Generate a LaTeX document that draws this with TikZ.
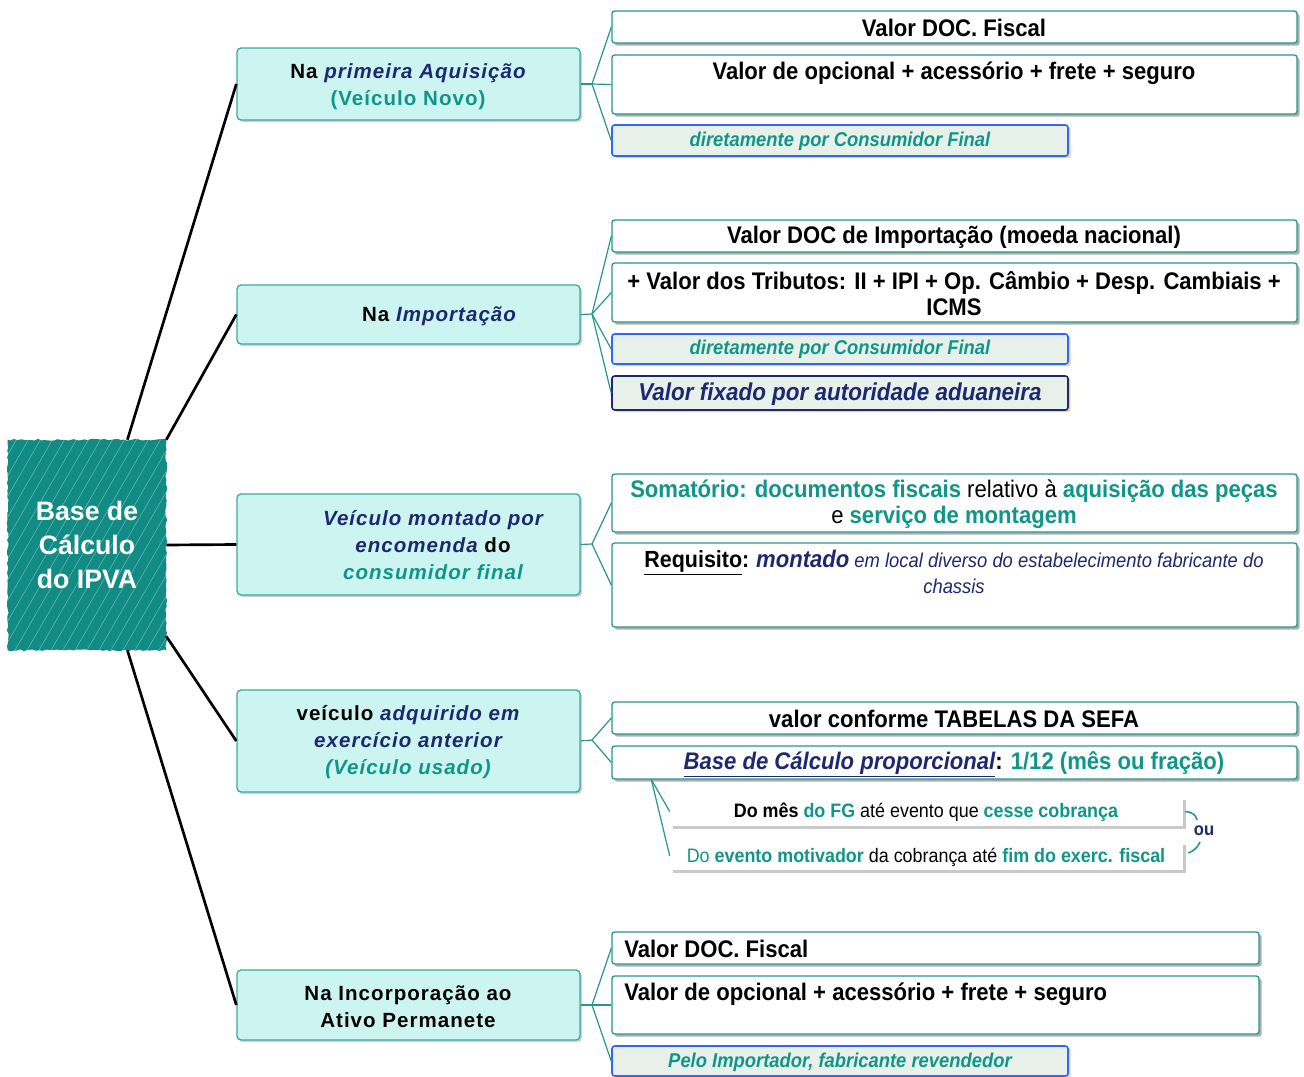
\documentclass[tikz,border=0pt]{standalone}
\usepackage{fontspec}
\setmainfont{Liberation Sans}
\newfontfamily\nar[FakeStretch=0.92]{Liberation Sans}
\newfontfamily\wide[LetterSpace=5]{Liberation Sans}
\usetikzlibrary{shadows,fit,calc,decorations.pathmorphing}
\definecolor{rootteal}{RGB}{16,140,132}
\definecolor{tealtxt}{RGB}{16,150,136}
\definecolor{navy}{RGB}{30,40,110}
\definecolor{branchfill}{RGB}{204,244,240}
\definecolor{branchborder}{RGB}{60,170,160}
\definecolor{leafborder}{RGB}{40,150,140}
\definecolor{notefill}{RGB}{232,240,234}
\definecolor{noteblue}{RGB}{50,100,255}
\definecolor{notetan}{RGB}{225,200,150}
\begin{document}
\begin{tikzpicture}[x=0.75pt,y=-0.75pt,
  trunk/.style={draw=black, line width=2pt},
  twig/.style={draw=leafborder, line width=0.9pt},
  branch/.style={draw=branchborder, line width=1pt, fill=branchfill, rounded corners=3pt, inner sep=0,
     drop shadow={shadow xshift=1.5pt, shadow yshift=-1.5pt, opacity=0.3, fill=black!60}},
  leaf/.style={draw=leafborder, line width=1pt, fill=white, rounded corners=2pt, inner sep=0,
     drop shadow={shadow xshift=2pt, shadow yshift=-2pt, opacity=0.45, fill=black!70}},
  note/.style={draw=noteblue, line width=1.2pt, fill=notefill, rounded corners=2pt, inner sep=0,
     drop shadow={shadow xshift=2pt, shadow yshift=-1.5pt, opacity=0.8, fill=notetan}},
  plainbox/.style={fill=white, inner sep=0,
     drop shadow={shadow xshift=2pt, shadow yshift=-2pt, opacity=0.3, fill=black!70}},
  btxt/.style={inner sep=0, align=center, font=\wide\bfseries\fontsize{15.4}{20.5}\selectfont},
  ltxt/.style={inner sep=0, align=center, font=\nar\bfseries\fontsize{18}{19.5}\selectfont},
  ntxt/.style={inner sep=0, align=center, font=\nar\bfseries\itshape\fontsize{15}{18}\selectfont},
  stxt/.style={inner sep=0, align=center, font=\nar\fontsize{14.6}{17}\selectfont},
  hatch/.style={draw=white!75!pink, line width=0.35pt, opacity=0.45}]
\useasboundingbox (0,0) rectangle (1304,1077);

% ---------- root ----------
\node[fit={(8,440)(166,650)}, inner sep=0, fill=black!40, opacity=0.25] (root) {};
\fill[rootteal, decorate, decoration={random steps,segment length=2.5pt,amplitude=0.7pt}]
  (root.south west) rectangle (root.north east);
\begin{scope}
  \clip (root.south west) rectangle (root.north east);
  \foreach \k in {-130,-118,...,175} \draw[hatch] (\k,652) -- ++(128,-222);
\end{scope}
\node[inner sep=0, align=center, text=white, font=\bfseries\fontsize{20}{25.5}\selectfont] (roottext) at (root.center) {Base de\\Cálculo\\do IPVA};

% ---------- branches ----------
\node[branch, fit={(237,48)(580,120)}] (b1) {};
\node[btxt] (b1t) at (408,87) {Na {\color{navy}\itshape primeira Aquisição}\\{\color{tealtxt}(Veículo Novo)}};
\node[branch, fit={(237,285)(580,344)}] (b2) {};
\node[btxt] (b2t) at (439,316) {Na {\color{navy}\itshape Importação}};
\node[branch, fit={(237,494)(580,595)}] (b3) {};
\node[btxt] (b3t) at (433,545) {{\color{navy}\itshape Veículo montado por}\\{\color{navy}\itshape encomenda} do\\{\color{tealtxt}\itshape consumidor final}};
\node[branch, fit={(237,690)(580,792)}] (b4) {};
\node[btxt] (b4t) at (408,742) {veículo {\color{navy}\itshape adquirido em}\\{\color{navy}\itshape exercício anterior}\\{\color{tealtxt}\itshape (Veículo usado)}};
\node[branch, fit={(237,970)(580,1040)}] (b5) {};
\node[btxt] (b5t) at (408,1007) {Na Incorporação ao\\Ativo Permanete};

% trunk connectors
\draw[trunk] (root.69) -- (b1.west);
\draw[trunk] (root.53) -- (b2.west);
\draw[trunk] (root.east) -- (b3.west);
\draw[trunk] (root.-49) -- (b4.west);
\draw[trunk] (root.-69) -- (b5.west);

% ---------- group 1 ----------
\node[leaf, fit={(612,11)(1297,43)}] (l1a) {};
\node[ltxt] (l1at) at (954,28) {Valor DOC. Fiscal};
\node[leaf, fit={(612,55)(1297,114)}] (l1b) {};
\node[ltxt] (l1bt) at (954,73) {Valor de opcional + acessório + frete + seguro};
\node[note, fit={(612,125)(1068,156)}] (l1c) {};
\node[ntxt, text=tealtxt] (l1ct) at (840,141) {diretamente por Consumidor Final};
\coordinate (f1) at (592,84);
\draw[twig] (b1.east) -- (f1);
\draw[twig] (f1) -- (l1a.west);
\draw[twig] (f1) -- (l1b.west);
\draw[twig] (f1) -- (l1c.west);

% ---------- group 2 ----------
\node[leaf, fit={(612,220)(1297,252)}] (l2a) {};
\node[ltxt] (l2at) at (954,237) {Valor DOC de Importação (moeda nacional)};
\node[leaf, fit={(612,263)(1297,322)}] (l2b) {};
\node[ltxt] (l2bt) at (954,294) {+ Valor dos Tributos: II + IPI + Op. Câmbio + Desp. Cambiais +\\ICMS};
\node[note, fit={(612,334)(1068,364)}] (l2c) {};
\node[ntxt, text=tealtxt] (l2ct) at (840,349) {diretamente por Consumidor Final};
\node[note, draw=navy, fit={(612,376)(1068,410)}] (l2d) {};
\node[ntxt, text=navy, font=\nar\bfseries\itshape\fontsize{18.3}{19}\selectfont] (l2dt) at (840,394) {Valor fixado por autoridade aduaneira};
\coordinate (f2) at (592,314);
\draw[twig] (b2.east) -- (f2);
\draw[twig] (f2) -- (l2a.west);
\draw[twig] (f2) -- (l2b.west);
\draw[twig] (f2) -- (l2c.west);
\draw[twig] (f2) -- (l2d.west);

% ---------- group 3 ----------
\node[leaf, fit={(612,474)(1297,532)}] (l3a) {};
\node[ltxt] (l3at) at (954,504) {{\color{tealtxt}Somatório: documentos fiscais} {\mdseries relativo à} {\color{tealtxt}aquisição das peças}\\{\mdseries e} {\color{tealtxt}serviço de montagem}};
\node[leaf, fit={(612,543)(1297,627)}] (l3b) {};
\node[inner sep=0, align=center, anchor=north, font=\nar\fontsize{15}{19.5}\selectfont] (l3bt) at (954,550) {{\bfseries\fontsize{17.5}{19.5}\selectfont\underline{Requisito}:} {\color{navy}{\bfseries\itshape\fontsize{18}{19.5}\selectfont montado} \itshape em local diverso do estabelecimento fabricante do}\\{\color{navy}\itshape chassis}};
\coordinate (f3) at (592,544);
\draw[twig] (b3.east) -- (f3);
\draw[twig] (f3) -- (l3a.west);
\draw[twig] (f3) -- (l3b.west);

% ---------- group 4 ----------
\node[leaf, fit={(612,702)(1297,734)}] (l4a) {};
\node[ltxt] (l4at) at (954,719) {valor conforme TABELAS DA SEFA};
\node[leaf, fit={(612,746)(1297,779)}] (l4b) {};
\node[ltxt] (l4bt) at (954,764) {{\color{navy}\itshape\underline{Base de Cálculo proporcional}}: {\color{tealtxt}1/12 (mês ou fração)}};
\coordinate (f4) at (592,740);
\draw[twig] (b4.east) -- (f4);
\draw[twig] (f4) -- (l4a.west);
\draw[twig] (f4) -- (l4b.west);
\node[plainbox, fit={(670,797)(1183,826)}] (l4c) {};
\node[stxt] (l4ct) at (926,812) {{\bfseries Do mês} {\bfseries\color{tealtxt}do FG} até evento que {\bfseries\color{tealtxt}cesse cobrança}};
\node[plainbox, fit={(670,842)(1183,870)}] (l4d) {};
\node[stxt] (l4dt) at (926,857) {{\color{tealtxt}Do \bfseries evento motivador} da cobrança até {\bfseries\color{tealtxt}fim do exerc. fiscal}};
\coordinate (s4) at ($(l4b.south west)+(40,0)$);
\draw[twig] (s4) -- (l4c.west);
\draw[twig] (s4) -- (l4d.west);
\node[inner sep=0, text=navy, font=\nar\bfseries\fontsize{13.5}{15}\selectfont] (ou) at (1204,831) {ou};
\draw[twig, line width=1.2pt] (l4c.east) ++(2,0) .. controls (1191,812) and (1196,814) .. (1197,820);
\draw[twig, line width=1.2pt] (l4d.east) ++(5,-3) .. controls (1194,851) and (1198,847) .. (1200,842);

% ---------- group 5 ----------
\node[leaf, fit={(612,932)(1259,964)}] (l5a) {};
\node[ltxt, anchor=west] (l5at) at (624,949) {Valor DOC. Fiscal};
\node[leaf, fit={(612,976)(1259,1034)}] (l5b) {};
\node[ltxt, anchor=west] (l5bt) at (624,994) {Valor de opcional + acessório + frete + seguro};
\node[note, fit={(612,1046)(1068,1076)}] (l5c) {};
\node[ntxt, text=tealtxt] (l5ct) at (840,1062) {Pelo Importador, fabricante revendedor};
\coordinate (f5) at (592,1005);
\draw[twig] (b5.east) -- (f5);
\draw[twig] (f5) -- (l5a.west);
\draw[twig] (f5) -- (l5b.west);
\draw[twig] (f5) -- (l5c.west);
\end{tikzpicture}
\end{document}
